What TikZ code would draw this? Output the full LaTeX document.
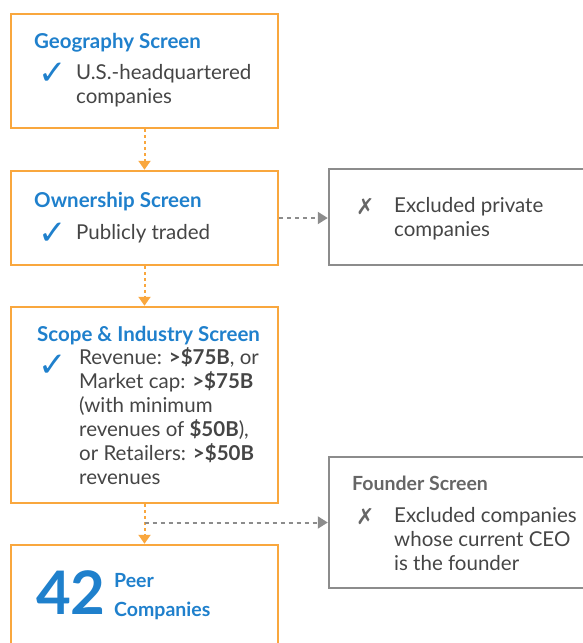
\documentclass[tikz,border=0pt]{standalone}
\usepackage{fontspec}
\setmainfont{Lato}
\newfontfamily\symfont{DejaVu Sans}
\usetikzlibrary{arrows.meta}
\definecolor{orng}{HTML}{F9A73E}
\definecolor{blu}{HTML}{1F80CC}
\definecolor{gbord}{HTML}{8C8C8C}
\definecolor{txt}{HTML}{454545}
\definecolor{gtitle}{HTML}{666666}
\tikzset{
  obox/.style={draw=orng, line width=2.5pt, minimum width=267pt, inner sep=0pt, rectangle},
  gbox/.style={draw=gbord, line width=2.5pt, inner sep=0pt, rectangle},
  ttl/.style={anchor=base west, inner sep=0pt, text=blu, font=\fontsize{20.5}{24}\selectfont\bfseries},
  gttl/.style={anchor=base west, inner sep=0pt, text=gtitle, font=\fontsize{19.5}{24}\selectfont\bfseries},
  body/.style={anchor=base west, inner sep=0pt, text=txt, align=left, font=\fontsize{20.5}{24}\selectfont},
  chk/.style={anchor=base west, inner sep=0pt, text=blu, font=\symfont\fontsize{34}{34}\selectfont},
  xmk/.style={anchor=base west, inner sep=0pt, text=gtitle, font=\symfont\bfseries\fontsize{22}{24}\selectfont},
  oarr/.style={draw=orng, line width=2pt, dash pattern=on 3pt off 3pt, -{Triangle[width=12pt,length=9pt]}},
  garr/.style={draw=gbord, line width=2pt, dash pattern=on 4pt off 4pt, -{Triangle[width=12pt,length=10pt]}},
}
\begin{document}
\begin{tikzpicture}[x=1pt,y=-1pt]
\useasboundingbox (0,0) rectangle (583,643);
\clip (0,0) rectangle (583,643);
% orange boxes
\node[obox, minimum height=114pt] (b1) at (144.5,71) {};
\node[obox, minimum height=94pt] (b2) at (144.5,218) {};
\node[obox, minimum height=196pt] (b3) at (144.5,405) {};
\node[obox, minimum height=110pt] (b4) at (144.5,600) {};
% gray boxes
\node[gbox, minimum width=256pt, minimum height=96pt] (g1) at (457,217) {};
\node[gbox, minimum width=256pt, minimum height=131pt] (g2) at (457,522.5) {};
% box 1
\node[ttl] (t1) at (34,48) {Geography Screen};
\node[chk] (c1) at (38,84) {✓};
\node[body] (l1) at (76,103) {U.S.-headquartered\\companies};
% box 2
\node[ttl] (t2) at (34,207) {Ownership Screen};
\node[chk] (c2) at (38,244) {✓};
\node[body] (l2) at (76,239) {Publicly traded};
% gray box 1
\node[xmk] (x1) at (356,214) {✗};
\node[body] (l3) at (394,236) {Excluded private\\companies};
% box 3
\node[ttl] (t3) at (37,341) {Scope \& Industry Screen};
\node[chk] (c3) at (38,376) {✓};
\node[body] (l4) at (79,484) {Revenue: \textbf{>\$75B}, or\\Market cap: \textbf{>\$75B}\\(with minimum\\revenues of \textbf{\$50B}),\\or Retailers: \textbf{>\$50B}\\revenues};
% gray box 2
\node[gttl] (t4) at (352,490) {Founder Screen};
\node[xmk] (x2) at (356,524) {✗};
\node[body] (l5) at (394,570) {Excluded companies\\whose current CEO\\is the founder};
% box 4
\node[anchor=base west, inner sep=0pt, text=blu, font=\fontsize{60}{60}\selectfont\bfseries] (n42) at (36,614) {42};
\node[anchor=base west, inner sep=0pt, text=blu, align=left, font=\fontsize{19.5}{29}\selectfont\bfseries] (pc) at (114,616) {Peer\\Companies};
% connectors
\draw[oarr] (b1.south) -- (b2.north);
\draw[oarr] (b2.south) -- (b3.north);
\draw[oarr] (b3.south) -- (b4.north);
\coordinate (split) at (b3.south |- g2.west);
\draw[garr] (b2.east) -- (b2.east -| g1.west);
\draw[garr] (split) -- (g2.west);
\end{tikzpicture}
\end{document}
